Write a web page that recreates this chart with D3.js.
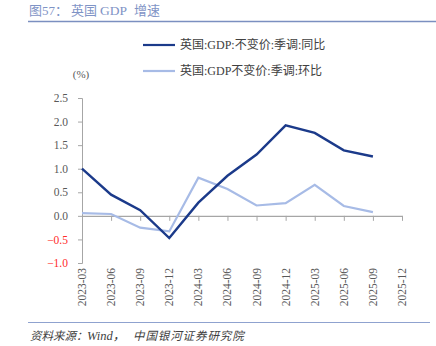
<!DOCTYPE html>
<html>
<head>
<meta charset="utf-8">
<script src="https://cdn.jsdelivr.net/npm/d3@7"></script>
<style>
	body { margin: 0; background: #fff; }
	svg text { font-family: "Liberation Serif", "Noto Sans CJK SC", serif; }
</style>
</head>
<body>
<div id="graphic"></div>
<script>
// quarters on the x axis
const quarters = ['2023-03', '2023-06', '2023-09', '2023-12', '2024-03', '2024-06',
	'2024-09', '2024-12', '2025-03', '2025-06', '2025-09', '2025-12'];
// GDP yoy, constant price, seasonally adjusted
const yoyValues = [1.0, 0.45, 0.12, -0.47, 0.28, 0.85, 1.3, 1.92, 1.76, 1.39, 1.26];
// GDP qoq
const qoqValues = [0.06, 0.04, -0.25, -0.33, 0.81, 0.57, 0.22, 0.27, 0.66, 0.21, 0.08];
const yTicks = [-1.0, -0.5, 0.0, 0.5, 1.0, 1.5, 2.0, 2.5];
const seriesNames = ['英国:GDP:不变价:季调:同比', '英国:GDP不变价:季调:环比'];
const colours = ['#1b3a8a', '#a7bbe6'];

const width = 436, height = 346;
const margin = { top: 98, right: 34, bottom: 83, left: 82 };
const chartHeight = height - margin.top - margin.bottom;

const svg = d3.select('#graphic').append('svg')
	.attr('width', width)
	.attr('height', height);

// title and rules
const title = svg.append('text')
	.attr('y', 15)
	.attr('font-size', 13)
	.attr('fill', '#7f94c6');
title.append('tspan').attr('x', 29).text('图57：');
title.append('tspan').attr('x', 71).text('英国');
title.append('tspan').attr('x', 100).attr('font-size', 13.5).text('GDP');
title.append('tspan').attr('x', 134).text('增速');

svg.append('line')
	.attr('x1', 28).attr('x2', width).attr('y1', 21.5).attr('y2', 21.5)
	.attr('stroke', '#7b8fc0').attr('stroke-width', 1.5);
svg.append('line')
	.attr('x1', 28).attr('x2', 430).attr('y1', 322.5).attr('y2', 322.5)
	.attr('stroke', '#8fa2cf').attr('stroke-width', 1);

const source = svg.append('text')
	.attr('y', 340)
	.attr('font-size', 11.5)
	.attr('font-style', 'italic')
	.attr('fill', '#404040');
source.append('tspan').attr('x', 30).text('资料来源：');
source.append('tspan').attr('x', 87).attr('font-size', 12.5).text('Wind，');
source.append('tspan').attr('x', 133).attr('letter-spacing', 0.9).text('中国银河证券研究院');

const g = svg.append('g').attr('transform', `translate(${margin.left},${margin.top})`);

const x = d3.scalePoint().domain(quarters).range([0, 320]);
const y = d3.scaleLinear().domain([-1.0, 2.5]).range([chartHeight, 0]);

// y axis
const yAxis = g.append('g')
	.call(d3.axisLeft(y).tickValues(yTicks).tickSize(4).tickPadding(10)
		.tickFormat(d3.format('.1f')));
yAxis.select('.domain').attr('stroke', '#a6a6a6');
yAxis.selectAll('line').attr('stroke', '#a6a6a6');
yAxis.selectAll('text')
	.attr('font-size', 11.5)
	.attr('font-family', '"Liberation Serif", serif')
	.attr('fill', (d) => (d < 0 ? '#ff2b2b' : '#595959'));

g.append('text')
	.attr('x', -1).attr('y', -20)
	.attr('text-anchor', 'middle')
	.attr('font-size', 11)
	.attr('fill', '#595959')
	.text('(%)');

// x axis at zero
const xAxis = g.append('g')
	.attr('transform', `translate(0,${y(0)})`)
	.call(d3.axisBottom(x).tickSize(5).tickSizeOuter(0));
xAxis.select('.domain').attr('stroke', '#a6a6a6').attr('stroke-width', 1.2);
xAxis.selectAll('line').attr('stroke', '#a6a6a6');
xAxis.selectAll('text').remove();

// rotated quarter labels below the plot
g.selectAll('text.xlab')
	.data(quarters)
	.join('text')
	.attr('class', 'xlab')
	.attr('transform', (d) => `translate(${x(d) + 4},${chartHeight + 5}) rotate(-90)`)
	.attr('text-anchor', 'end')
	.attr('font-size', 11.5)
	.attr('fill', '#595959')
	.text((d) => d);

const line = d3.line().x((d, i) => x(quarters[i])).y((d) => y(d));

g.append('path')
	.datum(qoqValues)
	.attr('fill', 'none')
	.attr('stroke', colours[1])
	.attr('stroke-width', 2.2)
	.attr('d', line);

g.append('path')
	.datum(yoyValues)
	.attr('fill', 'none')
	.attr('stroke', colours[0])
	.attr('stroke-width', 2.4)
	.attr('d', line);

// legend
const legend = svg.selectAll('g.legend')
	.data(seriesNames)
	.join('g')
	.attr('class', 'legend')
	.attr('transform', (d, i) => `translate(143,${45 + i * 26})`);
legend.append('line')
	.attr('x1', 0).attr('x2', 32)
	.attr('stroke', (d, i) => colours[i])
	.attr('stroke-width', 2.2);
legend.append('text')
	.attr('x', 37).attr('y', 4)
	.attr('font-size', 12)
	.attr('fill', '#404040')
	.text((d) => d);
</script>
</body>
</html>
